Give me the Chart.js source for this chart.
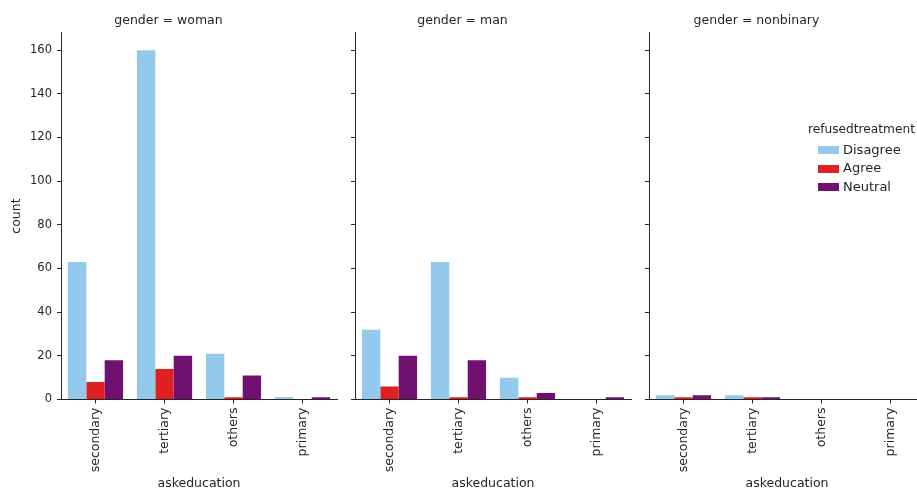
<!DOCTYPE html>
<html>
<head>
<meta charset="utf-8">
<script src="https://cdn.jsdelivr.net/npm/chart.js@4.4.1/dist/chart.umd.min.js"></script>
<style>
  html, body { margin:0; padding:0; background:#fff; width:917px; height:491px; overflow:hidden; position:relative; }
  canvas { position:absolute; top:0; }
  #legend { position:absolute; left:0; top:0; font-family:"DejaVu Sans", sans-serif; font-size:13px; color:#262626; white-space:nowrap; }
  #legend div, #legend span { position:absolute; }
</style>
</head>
<body>
<div id="charts"></div>
<div id="legend"></div>
<script>
// ---- data ----
const categories = ['secondary', 'tertiary', 'others', 'primary'];
const seriesNames = ['Disagree', 'Agree', 'Neutral'];
const panelTitles = ['gender = woman', 'gender = man', 'gender = nonbinary'];
const legendTitle = 'refusedtreatment';
const xTitle = 'askeducation';
const yTitle = 'count';
const yTickValues = [0, 20, 40, 60, 80, 100, 120, 140, 160];

const womanDisagree = [63, 160, 21, 1];
const womanAgree    = [8, 14, 1, 0];
const womanNeutral  = [18, 20, 11, 1];

const manDisagree = [32, 63, 10, 0];
const manAgree    = [6, 1, 1, 0];
const manNeutral  = [20, 18, 3, 1];

const nonbinaryDisagree = [2, 2, 0, 0];
const nonbinaryAgree    = [1, 1, 0, 0];
const nonbinaryNeutral  = [2, 1, 0, 0];

// ---- styling / layout ----
const panelData = [
  [womanDisagree, womanAgree, womanNeutral],
  [manDisagree, manAgree, manNeutral],
  [nonbinaryDisagree, nonbinaryAgree, nonbinaryNeutral]
];
const seriesColors = ['#93caeb', '#df2020', '#701070'];
const FONT = '"DejaVu Sans", sans-serif';
const INK = '#262626';
const PANEL_LEFT = [61, 355, 649];
const AXIS_W = 61, PLOT_W = 276, PAD_R = 8, H = 491;
const Y_MAX = 168;

const holder = document.getElementById('charts');
panelData.forEach((series, i) => {
  const cv = document.createElement('canvas');
  const w = AXIS_W + PLOT_W + PAD_R;
  cv.width = w; cv.height = H;
  cv.style.left = (PANEL_LEFT[i] - AXIS_W) + 'px';
  cv.style.width = w + 'px'; cv.style.height = H + 'px';
  holder.appendChild(cv);
  new Chart(cv.getContext('2d'), {
    type: 'bar',
    data: {
      labels: categories,
      datasets: seriesNames.map((name, k) => ({
        label: name,
        data: series[k],
        backgroundColor: seriesColors[k],
        borderWidth: 0,
        categoryPercentage: 0.8,
        barPercentage: 1.0
      }))
    },
    options: {
      responsive: false,
      animation: false,
      devicePixelRatio: 1,
      layout: { padding: { left: 0, right: PAD_R, top: 0, bottom: 0 } },
      plugins: {
        legend: { display: false },
        tooltip: { enabled: false },
        title: {
          display: true, text: panelTitles[i], color: INK,
          font: { family: FONT, size: 12.5, weight: 'normal' },
          padding: { top: 13.5, bottom: 4.2 }
        }
      },
      scales: {
        x: {
          type: 'category',
          offset: true,
          grid: { offset: false, drawOnChartArea: false, drawTicks: true, tickLength: 4, color: INK },
          border: { display: true, color: INK, width: 1 },
          ticks: { maxRotation: 90, minRotation: 90, padding: 4, color: INK, font: { family: FONT, size: 12.5 } },
          title: { display: true, text: xTitle, color: INK, font: { family: FONT, size: 12.5 }, padding: { top: 0, bottom: 0 } },
          afterFit(s) { s.height = 91.5; }
        },
        y: {
          min: 0, max: Y_MAX,
          afterBuildTicks(s) { s.ticks = yTickValues.map(v => ({ value: v })); },
          ticks: { display: i === 0, padding: 5, color: INK, font: { family: FONT, size: 11.5 } },
          grid: { drawOnChartArea: false, drawTicks: true, tickLength: 4, color: INK },
          border: { display: true, color: INK, width: 1 },
          title: { display: i === 0, text: yTitle, color: INK, font: { family: FONT, size: 12.5 }, padding: { top: 9, bottom: 0 } },
          afterFit(s) { s.width = AXIS_W; }
        }
      }
    }
  });
});

// ---- legend (HTML text) ----
const lg = document.getElementById('legend');
const t = document.createElement('div');
t.textContent = legendTitle;
t.style.left = '808px'; t.style.top = '122px'; t.style.lineHeight = '15px'; t.style.fontSize = '12.2px';
lg.appendChild(t);
seriesNames.forEach((name, k) => {
  const cy = 149 + k * 18.5;
  const sw = document.createElement('span');
  sw.style.left = '818px'; sw.style.top = (cy - 3) + 'px';
  sw.style.width = '21px'; sw.style.height = '8px';
  sw.style.background = seriesColors[k];
  lg.appendChild(sw);
  const tx = document.createElement('div');
  tx.textContent = name;
  tx.style.left = '843px'; tx.style.top = (cy - 7.5) + 'px'; tx.style.lineHeight = '15px';
  lg.appendChild(tx);
});
</script>
</body>
</html>
